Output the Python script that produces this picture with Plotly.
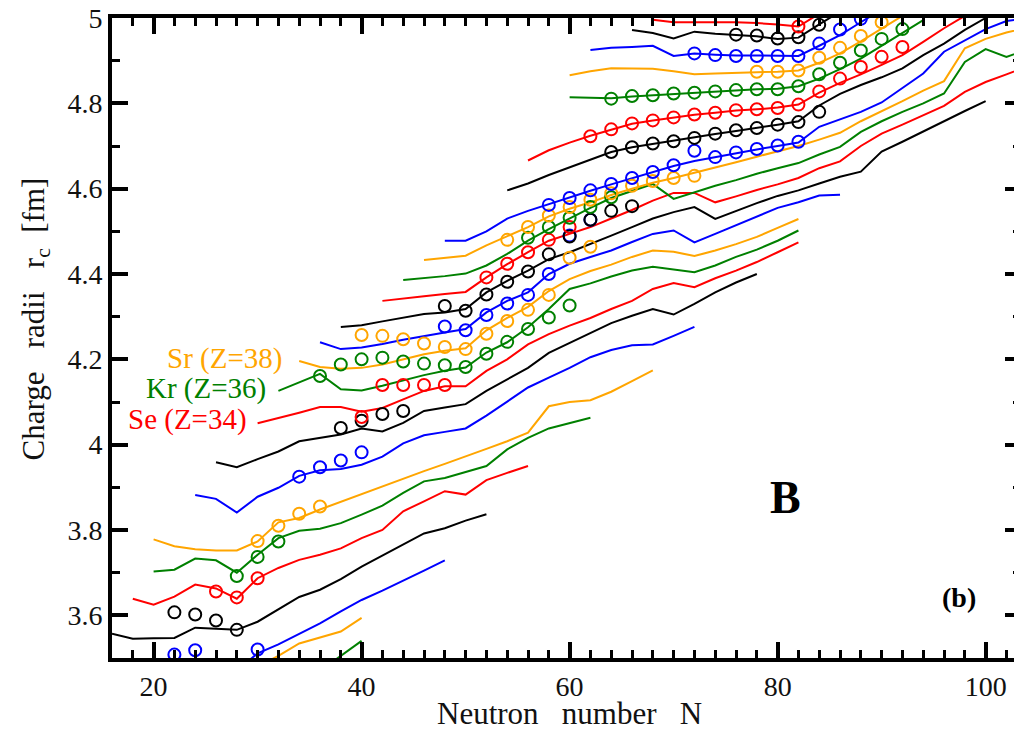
import plotly.graph_objects as go

# ---------------- data ----------------
# theory lines: neutron numbers and radii per isotopic chain
S_N = [36, 38, 40]
S_R = [3.47, 3.505, 3.54]
Ar_N = [30, 32, 34, 36, 38, 40]
Ar_R = [3.48, 3.505, 3.534, 3.548, 3.562, 3.594]
Ca_N = [28, 30, 32, 34, 36, 38, 40, 42, 44, 46, 48]
Ca_R = [3.47, 3.511, 3.532, 3.556, 3.581, 3.609, 3.636, 3.658, 3.681, 3.705, 3.729]
Ti_N = [16, 18, 20, 22, 24, 26, 28, 30, 32, 34, 36, 38, 40, 42, 44, 46, 48, 50, 52]
Ti_R = [3.557, 3.545, 3.546, 3.547, 3.571, 3.568, 3.566, 3.585, 3.615, 3.643, 3.66,
        3.685, 3.714, 3.74, 3.766, 3.792, 3.804, 3.822, 3.837]
Cr_N = [18, 20, 22, 24, 26, 28, 30, 32, 34, 36, 38, 40, 42, 44, 46, 48, 50, 52, 54, 56]
Cr_R = [3.639, 3.625, 3.644, 3.672, 3.663, 3.639, 3.687, 3.711, 3.730, 3.742, 3.757,
        3.781, 3.80, 3.844, 3.867, 3.891, 3.883, 3.917, 3.934, 3.95]
Fe_N = [20, 22, 24, 26, 28, 30, 32, 34, 36, 38, 40, 42, 44, 46, 48, 50, 52, 54, 56, 58, 60, 62]
Fe_R = [3.703, 3.707, 3.733, 3.729, 3.70, 3.742, 3.781, 3.798, 3.803, 3.816, 3.836,
        3.857, 3.887, 3.914, 3.922, 3.936, 3.95, 3.989, 4.016, 4.038, 4.051, 4.063]
Ni_N = [20, 22, 24, 26, 28, 30, 32, 34, 36, 38, 40, 42, 44, 46, 48, 50, 52, 54, 56, 58,
        60, 62, 64, 66, 68]
Ni_R = [3.778, 3.762, 3.755, 3.752, 3.752, 3.773, 3.818, 3.828, 3.848, 3.866, 3.884,
        3.903, 3.92, 3.938, 3.955, 3.972, 3.99, 4.008, 4.028, 4.09, 4.10, 4.104, 4.124,
        4.149, 4.174]
Zn_N = [24, 26, 28, 30, 32, 34, 36, 38, 40, 42, 44, 46, 48, 50, 52, 54, 56, 58, 60, 62,
        64, 66, 68, 70, 72]
Zn_R = [3.882, 3.873, 3.841, 3.878, 3.899, 3.927, 3.94, 3.943, 3.953, 3.972, 4.003,
        4.022, 4.03, 4.038, 4.068, 4.102, 4.134, 4.157, 4.18, 4.205, 4.222, 4.233, 4.235,
        4.255, 4.276]
Ge_N = [26, 28, 30, 32, 34, 36, 38, 40, 42, 44, 46, 48, 50, 52, 54, 56, 58, 60, 62, 64,
        66, 68, 70, 72, 74, 76, 78]
Ge_R = [3.959, 3.947, 3.966, 3.984, 4.008, 4.016, 4.024, 4.038, 4.031, 4.051, 4.079,
        4.087, 4.095, 4.126, 4.153, 4.18, 4.215, 4.238, 4.262, 4.285, 4.302, 4.318, 4.305,
        4.33, 4.357, 4.38, 4.40]
Se_N = [30, 32, 34, 36, 38, 40, 42, 44, 46, 48, 50, 52, 54, 56, 58, 60, 62, 64, 66, 68,
        70, 72, 74, 76, 78, 80, 82]
Se_R = [4.05, 4.062, 4.075, 4.088, 4.088, 4.077, 4.086, 4.106, 4.126, 4.137, 4.137,
        4.173, 4.2, 4.235, 4.259, 4.279, 4.297, 4.318, 4.337, 4.365, 4.379, 4.369, 4.39,
        4.408, 4.428, 4.451, 4.474]
Kr_N = [32, 34, 36, 38, 40, 42, 44, 46, 48, 50, 52, 54, 56, 58, 60, 62, 64, 66, 68, 70,
        72, 74, 76, 78, 80, 82]
Kr_R = [4.126, 4.146, 4.166, 4.13, 4.127, 4.138, 4.151, 4.163, 4.173, 4.181, 4.216,
        4.24, 4.275, 4.318, 4.365, 4.378, 4.394, 4.408, 4.417, 4.41, 4.404, 4.42, 4.44,
        4.457, 4.478, 4.502]
Sr_N = [34, 36, 38, 40, 42, 44, 46, 48, 50, 52, 54, 56, 58, 60, 62, 64, 66, 68, 70, 72,
        74, 76, 78, 80, 82]
Sr_R = [4.196, 4.182, 4.178, 4.18, 4.188, 4.20, 4.212, 4.22, 4.226, 4.268, 4.297,
        4.323, 4.36, 4.388, 4.407, 4.422, 4.44, 4.455, 4.452, 4.442, 4.455, 4.47, 4.487,
        4.508, 4.529]
Zr_N = [36, 38, 40, 42, 44, 46, 48, 50, 52, 54, 56, 58, 60, 62, 64, 66, 68, 70, 72, 74,
        76, 78, 80, 82, 84, 86]
Zr_R = [4.24, 4.224, 4.228, 4.236, 4.246, 4.255, 4.263, 4.271, 4.31, 4.337, 4.357,
        4.40, 4.424, 4.44, 4.455, 4.475, 4.494, 4.502, 4.474, 4.494, 4.514, 4.535, 4.555,
        4.568, 4.584, 4.586]
Mo_N = [38, 40, 42, 44, 46, 48, 50, 52, 54, 56, 58, 60, 62, 64, 66, 68, 70, 72, 74, 76,
        78, 80, 82, 84, 86, 88, 90, 92, 94, 96, 98, 100]
Mo_R = [4.276, 4.28, 4.289, 4.297, 4.306, 4.31, 4.318, 4.357, 4.384, 4.408, 4.435,
        4.451, 4.47, 4.49, 4.51, 4.53, 4.545, 4.557, 4.529, 4.548, 4.566, 4.583, 4.596,
        4.612, 4.628, 4.64, 4.687, 4.71, 4.735, 4.758, 4.782, 4.805]
Ru_N = [42, 44, 46, 48, 50, 52, 54, 56, 58, 60, 62, 64, 66, 68, 70, 72, 74, 76, 78, 80,
        82, 84, 86, 88, 90, 92, 94, 96, 98, 100, 102, 104]
Ru_R = [4.337, 4.343, 4.348, 4.353, 4.358, 4.392, 4.423, 4.451, 4.478, 4.494, 4.51,
        4.53, 4.55, 4.572, 4.59, 4.59, 4.568, 4.582, 4.597, 4.61, 4.625, 4.648, 4.664,
        4.70, 4.729, 4.75, 4.772, 4.794, 4.827, 4.85, 4.868, 4.886]
Pd_N = [44, 46, 48, 50, 52, 54, 56, 58, 60, 62, 64, 66, 68, 70, 72, 74, 76, 78, 80, 82,
        84, 86, 88, 90, 92, 94, 96, 98, 100, 102, 104]
Pd_R = [4.386, 4.39, 4.395, 4.401, 4.42, 4.447, 4.478, 4.505, 4.53, 4.555, 4.578,
        4.595, 4.611, 4.576, 4.592, 4.607, 4.62, 4.635, 4.648, 4.66, 4.68, 4.698, 4.733,
        4.758, 4.78, 4.80, 4.823, 4.897, 4.927, 4.909, 4.926]
Cd_N = [46, 48, 50, 52, 54, 56, 58, 60, 62, 64, 66, 68, 70, 72, 74, 76, 78, 80, 82, 84,
        86, 88, 90, 92, 94, 96, 98, 100, 102, 104]
Cd_R = [4.433, 4.438, 4.443, 4.467, 4.488, 4.51, 4.535, 4.553, 4.568, 4.585, 4.60,
        4.614, 4.625, 4.637, 4.65, 4.662, 4.675, 4.688, 4.70, 4.715, 4.731, 4.758, 4.781,
        4.805, 4.83, 4.852, 4.929, 4.951, 4.966, 4.977]
Sn_N = [48, 50, 52, 54, 56, 58, 60, 62, 64, 66, 68, 70, 72, 74, 76, 78, 80, 82, 84, 86,
        88, 90, 92, 94, 96, 98, 100, 102, 104]
Sn_R = [4.478, 4.478, 4.50, 4.53, 4.548, 4.564, 4.579, 4.595, 4.61, 4.624, 4.638,
        4.653, 4.665, 4.674, 4.684, 4.692, 4.70, 4.708, 4.745, 4.763, 4.78, 4.802, 4.835,
        4.87, 4.921, 4.948, 4.974, 4.993, 5.0]
Te_N = [54, 56, 58, 60, 62, 64, 66, 68, 70, 72, 74, 76, 78, 80, 82, 84, 86, 88, 90, 92,
        94, 96, 98, 100]
Te_R = [4.596, 4.612, 4.632, 4.65, 4.668, 4.686, 4.697, 4.705, 4.712, 4.72, 4.728,
        4.735, 4.742, 4.75, 4.758, 4.795, 4.822, 4.843, 4.861, 4.882, 4.913, 4.94, 4.972,
        5.0]
Xe_N = [56, 58, 60, 62, 64, 66, 68, 70, 72, 74, 76, 78, 80, 82, 84, 86, 88, 90, 92, 94,
        96, 98]
Xe_R = [4.666, 4.69, 4.708, 4.724, 4.738, 4.752, 4.76, 4.767, 4.773, 4.778, 4.783,
        4.786, 4.79, 4.797, 4.825, 4.848, 4.868, 4.89, 4.913, 4.944, 4.976, 5.005]
Ba_N = [60, 62, 64, 66, 68, 70, 72, 74, 76, 78, 80, 82, 84, 86, 88, 90, 92, 94]
Ba_R = [4.814, 4.813, 4.812, 4.816, 4.819, 4.822, 4.825, 4.828, 4.831, 4.833, 4.834,
        4.84, 4.858, 4.88, 4.905, 4.935, 4.965, 4.995]
Ce_N = [60, 62, 64, 66, 68, 70, 72, 74, 76, 78, 80, 82, 84, 86, 88, 90, 92]
Ce_R = [4.866, 4.875, 4.882, 4.882, 4.881, 4.875, 4.868, 4.87, 4.872, 4.873, 4.874,
        4.877, 4.895, 4.917, 4.945, 4.975, 5.005]
Nd_N = [62, 64, 66, 68, 70, 72, 74, 76, 78, 80, 82, 84, 86, 88, 90]
Nd_R = [4.925, 4.93, 4.932, 4.935, 4.911, 4.917, 4.914, 4.912, 4.912, 4.911, 4.911,
        4.935, 4.96, 4.99, 5.02]
Sm_N = [66, 68, 70, 72, 74, 76, 78, 80, 82, 84, 86]
Sm_R = [4.972, 4.965, 4.952, 4.968, 4.963, 4.96, 4.957, 4.951, 4.954, 4.985, 5.015]
Gd_N = [68, 70, 72, 74, 76, 78, 80, 82, 84]
Gd_R = [4.996, 4.99, 4.99, 4.99, 4.99, 4.988, 4.985, 4.98, 5.01]

# experimental points (open circles)
Ca_expN = [20, 22, 24, 28, 30]
Ca_expR = [3.478, 3.508, 3.518, 3.477, 3.52]
Ti_expN = [22, 24, 26, 28]
Ti_expR = [3.607, 3.602, 3.588, 3.566]
Cr_expN = [26, 28, 30]
Cr_expR = [3.656, 3.642, 3.687]
Fe_expN = [28, 30, 32]
Fe_expR = [3.692, 3.737, 3.773]
Ni_expN = [30, 32, 34, 36]
Ni_expR = [3.774, 3.81, 3.838, 3.855]
Zn_expN = [34, 36, 38, 40]
Zn_expR = [3.925, 3.947, 3.963, 3.982]
Ge_expN = [38, 40, 42, 44]
Ge_expR = [4.039, 4.056, 4.072, 4.079]
Se_expN = [40, 42, 44, 46, 48]
Se_expR = [4.065, 4.14, 4.14, 4.14, 4.14]
Kr_expN = [36, 38, 40, 42, 44, 46, 48, 50, 52, 54, 56, 58, 60]
Kr_expR = [4.161, 4.188, 4.20, 4.204, 4.195, 4.19, 4.186, 4.182, 4.213, 4.241, 4.271,
           4.298, 4.326]
Sr_expN = [40, 42, 44, 46, 48, 50, 52, 54, 56, 58, 60, 62]
Sr_expR = [4.257, 4.255, 4.247, 4.237, 4.229, 4.224, 4.26, 4.29, 4.316, 4.351, 4.438,
           4.464]
Zr_expN = [48, 50, 52, 54, 56, 58, 60, 62]
Zr_expR = [4.277, 4.268, 4.304, 4.331, 4.351, 4.40, 4.49, 4.527]
Mo_expN = [48, 50, 52, 54, 56, 58, 60, 62, 64, 66]
Mo_expR = [4.325, 4.314, 4.352, 4.382, 4.406, 4.446, 4.488, 4.527, 4.548, 4.559]
Ru_expN = [52, 54, 56, 58, 60]
Ru_expR = [4.392, 4.424, 4.451, 4.48, 4.51]
Pd_expN = [56, 58, 60, 62, 64]
Pd_expR = [4.485, 4.51, 4.532, 4.557, 4.58]
Cd_expN = [54, 56, 58, 60, 62, 64, 66, 68, 70, 72]
Cd_expR = [4.48, 4.51, 4.537, 4.557, 4.574, 4.589, 4.607, 4.618, 4.625, 4.63]
Sn_expN = [58, 60, 62, 64, 66, 68, 70, 72, 74, 76, 78, 80, 82]
Sn_expR = [4.562, 4.578, 4.596, 4.611, 4.625, 4.639, 4.655, 4.689, 4.674, 4.685,
           4.693, 4.701, 4.71]
Te_expN = [64, 66, 68, 70, 72, 74, 76, 78, 80, 82, 84]
Te_expR = [4.686, 4.697, 4.706, 4.711, 4.719, 4.729, 4.737, 4.742, 4.75, 4.756, 4.78]
Xe_expN = [62, 64, 66, 68, 70, 72, 74, 76, 78, 80, 82, 84, 86, 88, 90, 92]
Xe_expR = [4.723, 4.739, 4.753, 4.76, 4.767, 4.774, 4.778, 4.784, 4.786, 4.789, 4.797,
           4.828, 4.858, 4.885, 4.909, 4.932]
Ba_expN = [64, 66, 68, 70, 72, 74, 76, 78, 80, 82, 84, 86, 88, 90, 92]
Ba_expR = [4.811, 4.817, 4.819, 4.823, 4.825, 4.828, 4.831, 4.833, 4.833, 4.84, 4.868,
           4.895, 4.924, 4.951, 4.974]
Ce_expN = [78, 80, 82, 84, 86, 88, 90]
Ce_expR = [4.874, 4.874, 4.877, 4.907, 4.93, 4.958, 4.99]
Nd_expN = [72, 74, 76, 78, 80, 82, 84, 86, 88]
Nd_expR = [4.917, 4.913, 4.911, 4.911, 4.911, 4.911, 4.94, 4.973, 4.998]
Sm_expN = [76, 78, 80, 82, 84]
Sm_expR = [4.961, 4.959, 4.952, 4.955, 4.984]
Gd_expN = [82]
Gd_expR = [4.98]

# chain table: (proton number, line N, line R, exp N, exp R)
chains = [
    (16, S_N, S_R, [], []),
    (18, Ar_N, Ar_R, [], []),
    (20, Ca_N, Ca_R, Ca_expN, Ca_expR),
    (22, Ti_N, Ti_R, Ti_expN, Ti_expR),
    (24, Cr_N, Cr_R, Cr_expN, Cr_expR),
    (26, Fe_N, Fe_R, Fe_expN, Fe_expR),
    (28, Ni_N, Ni_R, Ni_expN, Ni_expR),
    (30, Zn_N, Zn_R, Zn_expN, Zn_expR),
    (32, Ge_N, Ge_R, Ge_expN, Ge_expR),
    (34, Se_N, Se_R, Se_expN, Se_expR),
    (36, Kr_N, Kr_R, Kr_expN, Kr_expR),
    (38, Sr_N, Sr_R, Sr_expN, Sr_expR),
    (40, Zr_N, Zr_R, Zr_expN, Zr_expR),
    (42, Mo_N, Mo_R, Mo_expN, Mo_expR),
    (44, Ru_N, Ru_R, Ru_expN, Ru_expR),
    (46, Pd_N, Pd_R, Pd_expN, Pd_expR),
    (48, Cd_N, Cd_R, Cd_expN, Cd_expR),
    (50, Sn_N, Sn_R, Sn_expN, Sn_expR),
    (52, Te_N, Te_R, Te_expN, Te_expR),
    (54, Xe_N, Xe_R, Xe_expN, Xe_expR),
    (56, Ba_N, Ba_R, Ba_expN, Ba_expR),
    (58, Ce_N, Ce_R, Ce_expN, Ce_expR),
    (60, Nd_N, Nd_R, Nd_expN, Nd_expR),
    (62, Sm_N, Sm_R, Sm_expN, Sm_expR),
    (64, Gd_N, Gd_R, Gd_expN, Gd_expR),
]

# ---------------- style ----------------
COLORS = {0: "#0000FF", 2: "#000000", 4: "#FF0000", 6: "#008000", 8: "#FFA500"}
FONT = "Liberation Serif, Times New Roman, serif"

fig = go.Figure()
for Z, ln, lr, en, er in chains:
    col = COLORS[Z % 10]
    fig.add_trace(go.Scatter(x=ln, y=lr, mode="lines",
                             line=dict(color=col, width=2), showlegend=False,
                             hoverinfo="skip"))
for Z, ln, lr, en, er in chains:
    if not en:
        continue
    col = COLORS[Z % 10]
    fig.add_trace(go.Scatter(x=en, y=er, mode="markers",
                             marker=dict(symbol="circle-open", size=12, color=col,
                                         line=dict(width=2)),
                             showlegend=False))

ax_common = dict(showline=True, linewidth=4, linecolor="black", mirror="allticks",
                 ticks="inside", ticklen=16, tickwidth=4, tickcolor="black",
                 showgrid=False, zeroline=False, ticklabeloverflow="allow",
                 automargin=False,
                 tickfont=dict(family=FONT, size=28, color="#111"))

fig.update_xaxes(range=[16, 103.4], tick0=0, dtick=20,
                 minor=dict(dtick=2, ticklen=8, tickwidth=3, ticks="inside",
                            tickcolor="black", showgrid=False),
                 **ax_common)
fig.update_yaxes(range=[3.5, 5.0], tick0=3.6, dtick=0.2, tickformat="~g",
                 minor=dict(dtick=0.1, ticklen=8, tickwidth=3, ticks="inside",
                            tickcolor="black", showgrid=False),
                 **ax_common)

labels = [("Sr (Z=38)", 26.8, 4.203, COLORS[8]),
          ("Kr (Z=36)", 25.0, 4.131, COLORS[6]),
          ("Se (Z=34)", 23.3, 4.058, COLORS[4])]
for txt, x, y, c in labels:
    fig.add_annotation(x=x, y=y, text=txt, showarrow=False,
                       xanchor="center", yanchor="middle",
                       font=dict(family=FONT, size=29, color=c))

fig.add_annotation(x=80.8, y=3.877, text="<b>B</b>", showarrow=False,
                   xanchor="center", yanchor="middle",
                   font=dict(family=FONT, size=46, color="black"))
fig.add_annotation(x=97.4, y=3.642, text="<b>(b)</b>", showarrow=False,
                   xanchor="center", yanchor="middle",
                   font=dict(family=FONT, size=28, color="black"))

fig.add_annotation(xref="paper", yref="paper", x=0.503, y=-0.086,
                   xanchor="center", yanchor="middle",
                   text="Neutron&nbsp;&nbsp;&nbsp;number&nbsp;&nbsp;&nbsp;N", showarrow=False,
                   font=dict(family=FONT, size=31, color="#111"))
fig.add_annotation(xref="paper", yref="paper", x=-0.084, y=0.53, textangle=-90,
                   xanchor="center", yanchor="middle",
                   text="Charge&nbsp;&nbsp;&nbsp;radii&nbsp;&nbsp;&nbsp;r<sub>c</sub>&nbsp;&nbsp;[fm]",
                   showarrow=False,
                   font=dict(family=FONT, size=31, color="#111"))

fig.update_layout(width=1022, height=730, plot_bgcolor="white", paper_bgcolor="white",
                  margin=dict(l=104, r=9, t=10, b=80), showlegend=False)

fig.write_html("out.html")
